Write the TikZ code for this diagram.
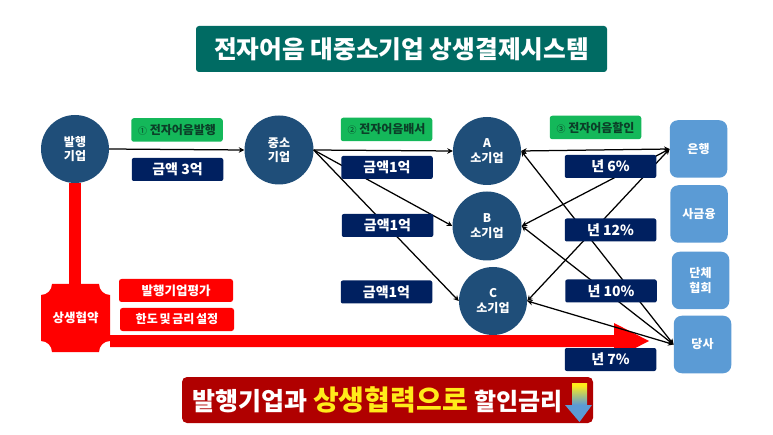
\documentclass[tikz,border=0pt]{standalone}
\usepackage{fontspec}
\setmainfont{Noto Sans CJK KR}
\usetikzlibrary{arrows.meta,shadings}
\tikzset{
  x=1pt,y=-1pt,
  firm/.style={circle,fill=circ,text=white,inner sep=0pt,minimum size=#1,align=center,font=\bfseries\fontsize{12}{14.5}\selectfont},
  navy/.style={rectangle,rounded corners=2pt,fill=navyc,text=white,inner sep=0pt,minimum width=91.5pt,minimum height=23pt,font=\bfseries\fontsize{14}{16}\selectfont},
  grn/.style={rectangle,rounded corners=2.5pt,fill=grnc,text=grntx,inner sep=0pt,minimum width=91.5pt,minimum height=23.5pt,font=\bfseries\fontsize{12}{13}\selectfont},
  redb/.style={rectangle,rounded corners=2.5pt,fill=red,text=white,inner sep=0pt,minimum width=114pt,minimum height=23pt,font=\bfseries\fontsize{12.5}{13}\selectfont},
  side/.style={rectangle,rounded corners=8pt,fill=sidec,text=white,inner sep=0pt,minimum width=57.5pt,minimum height=57.5pt,align=center,font=\bfseries\fontsize{12}{15}\selectfont},
  link/.style={line width=1.25pt,black,-{Stealth[length=5.5pt,width=5.5pt]}},
  both/.style={line width=1.25pt,black,{Stealth[length=5.5pt,width=5.5pt]}-{Stealth[length=5.5pt,width=5.5pt]}},
}
\definecolor{circ}{HTML}{1F4E79}
\definecolor{navyc}{HTML}{002060}
\definecolor{grnc}{HTML}{14B85A}
\definecolor{grntx}{HTML}{0B3F28}
\definecolor{sidec}{HTML}{5B9BD5}
\definecolor{titlec}{HTML}{006B63}
\definecolor{botc}{HTML}{B00000}
\definecolor{gold}{HTML}{FFEB1A}
\pgfdeclareverticalshading{arrowgrad}{100bp}{color(0bp)=(sidec); color(47bp)=(sidec); color(72bp)=(gold); color(100bp)=(gold)}
\begin{document}
\begin{tikzpicture}
\useasboundingbox (0,0) rectangle (773,435);
\fill[white] (0,0) rectangle (773,435);
% title
\node (title) at (401.5,49) [rectangle,rounded corners=3pt,fill=titlec,text=white,inner sep=0pt,minimum width=411pt,minimum height=46pt,font=\bfseries\fontsize{24.7}{28}\selectfont] {전자어음 대중소기업 상생결제시스템};
% firms
\node[firm=68pt] (issuer) at (75,149) {발행\\기업};
\node[firm=69pt] (mid) at (279,150) {중소\\기업};
\node[firm=68pt] (fa) at (487,151) {A\\소기업};
\node[firm=69pt] (fb) at (487,226) {B\\소기업};
\node[firm=68pt] (fc) at (493,301) {C\\소기업};
% lenders
\node[side] (bank) at (698.5,149) {은행};
\node[side] (priv) at (699,214) {사금융};
\node[side] (assoc) at (700.5,280.5) {단체\\협회};
\node[side] (self) at (702.5,344.5) {당사};
% red contract band
\fill[red] (52,284) -- (99,284) .. controls (99,290) and (104,295) .. (110,295) -- (110,341)
  .. controls (104,341) and (99,346) .. (99,352) -- (52,352)
  .. controls (52,346) and (47,341) .. (41,341) -- (41,295)
  .. controls (47,295) and (52,290) .. (52,284) -- cycle;
\node (plaque) at (75.5,318) [inner sep=0pt,minimum width=69pt,minimum height=68pt,text=white,font=\bfseries\fontsize{12.5}{14}\selectfont] {상생협약};
\draw[red,line width=12pt] (issuer.south) -- (plaque.north -| issuer.south);
\fill[red] (plaque.east |- 0,335) -- (614,335) -- (614,323) -- (649,341) -- (614,359) -- (614,347) -- (plaque.east |- 0,347) -- cycle;
% connectors
\draw[link] (issuer.east) -- (mid.west);
\draw[link] (mid.east) -- (fa.west);
\draw[link] (mid.east) -- (fb.west);
\draw[link] (mid.east) -- (fc.west);
\draw[both] (fa.east) -- (bank.west);
\draw[both] (fb.east) -- (bank.west);
\draw[both] (fc.east) -- (bank.west);
\draw[both] (fa.east) -- (self.west);
\draw[both] (fb.east) -- (self.west);
\draw[both] (fc.east) -- (self.west);
% labels
\node[grn] (g1) at (177,130) {{\mdseries\fontsize{9}{11}\selectfont ①} 전자어음발행};
\node[grn] (g2) at (386.5,129.5) {{\mdseries\fontsize{9}{11}\selectfont ②} 전자어음배서};
\node[grn] (g3) at (595.5,127.5) {{\mdseries\fontsize{9}{11}\selectfont ③} 전자어음할인};
\node[navy] (a0) at (177.5,169.5) {금액 3억};
\node[navy] (a1) at (387,167.5) {금액1억};
\node[navy] (a2) at (387.5,225.5) {금액1억};
\node[navy] (a3) at (386.5,292) {금액1억};
\node[navy] (r1) at (610.5,166.5) {년 6\%};
\node[navy] (r2) at (610.5,230) {년 12\%};
\node[navy] (r3) at (611,291) {년 10\%};
\node[navy] (r4) at (610.5,359.5) {년 7\%};
\node[redb] (e1) at (176,290.5) {발행기업평가};
\node[redb,font=\bfseries\fontsize{12}{13}\selectfont] (e2) at (177,319.5) {한도\hspace{-1pt} 및\hspace{-1pt} 금리\hspace{-1pt} 설정};
% bottom banner
\node (ban) at (387.5,400) [rectangle,rounded corners=5pt,fill=botc,inner sep=0pt,minimum width=411pt,minimum height=46pt] {};
\node[anchor=west,text=white,inner sep=0pt,font=\bfseries\fontsize{25}{28}\selectfont] (b1) at (192,401) {발행기업과};
\node[anchor=west,text=gold,inner sep=0pt,font=\bfseries\fontsize{28}{30}\selectfont] (b2) at (313,400) {상생협력으로};
\node[anchor=west,text=white,inner sep=0pt,font=\bfseries\fontsize{24}{26}\selectfont] (b3) at (474,401) {할인금리};
\shade[shading=arrowgrad]
  (572,383) -- (587,383) -- (587,405) -- (592,405) -- (579.5,422) -- (565,405) -- (572,405) -- cycle;
\end{tikzpicture}
\end{document}
